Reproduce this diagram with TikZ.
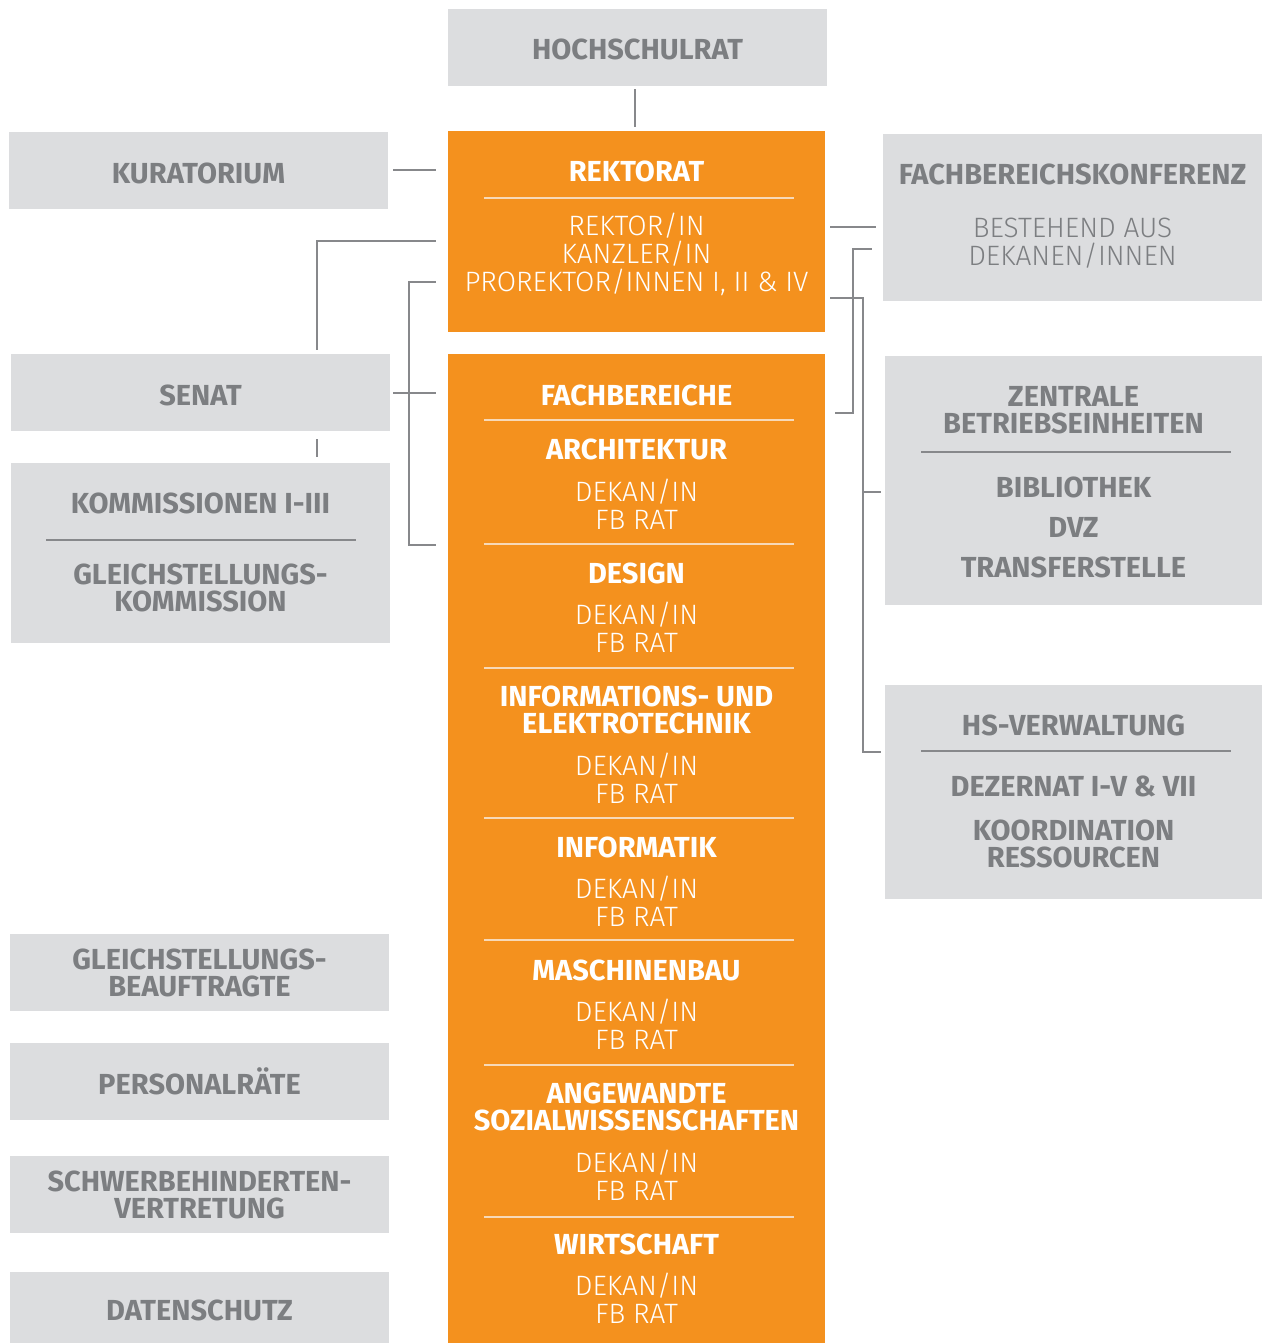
\documentclass[tikz,border=0pt]{standalone}
\usepackage{fontspec}
\setmainfont{Fira Sans}
\newfontfamily\firalight{Fira Sans Light}
\definecolor{hsorange}{HTML}{F4911E}
\definecolor{boxgrey}{HTML}{DCDDDF}
\definecolor{textgrey}{HTML}{7C7E81}
\definecolor{linegrey}{HTML}{87888B}
\definecolor{seppale}{HTML}{F7D9B8}
\newcommand\headfont{\fontsize{29}{27}\selectfont\bfseries}
\newcommand\subfont{\fontsize{28}{28}\selectfont\firalight}
\tikzset{
	greybox/.style={fill=boxgrey,inner sep=0pt,minimum width=379,minimum height=77,font=\headfont,text=textgrey,align=center},
	oneline/.style={text height=25pt,text depth=0pt},
	orangebox/.style={fill=hsorange,inner sep=0pt,minimum width=377},
	head/.style={font=\headfont,text=textgrey,align=center,inner sep=0pt},
	sub/.style={font=\subfont,text=textgrey,align=center,inner sep=0pt},
	whitehead/.style={head,text=white},
	whitesub/.style={sub,text=white},
	link/.style={draw=linegrey,line width=2pt},
	greysep/.style={draw=linegrey,line width=1.3pt},
	palesep/.style={draw=seppale,line width=1.5pt}
}
\begin{document}
\begin{tikzpicture}[x=1pt,y=-1pt]
	\useasboundingbox(0,0)rectangle(1263,1343);
	\node[greybox,oneline](hsr)at(637.5,47.5){HOCHSCHULRAT};
	\node[greybox,oneline](kur)at(198.5,170.5){KURATORIUM};
	\node[greybox,oneline](senat)at(200.5,392.5){SENAT};
	\node[greybox,minimum height=180](kom)at(200.5,553){};
	\node[greybox](gsb)at(199.5,972.5){GLEICHSTELLUNGS-\\BEAUFTRAGTE};
	\node[greybox,oneline](pr)at(199.5,1081.5){PERSONALRÄTE};
	\node[greybox](sbv)at(199.5,1194.5){SCHWERBEHINDERTEN-\\VERTRETUNG};
	\node[greybox,oneline,minimum height=71](ds)at(199.5,1307.5){DATENSCHUTZ};
	\node[orangebox,minimum height=201](rek)at(636.5,231.5){};
	\node[orangebox,minimum height=989](fb)at(636.5,848.5){};
	\node[greybox,minimum height=167](fbk)at(1072.5,217.5){};
	\node[greybox,minimum width=377,minimum height=249](zbe)at(1073.5,480.5){};
	\node[greybox,minimum width=377,minimum height=214](hsv)at(1073.5,792){};

	\node[whitehead](rektitle)at(636.5,171){REKTORAT};
	\draw[palesep](484,198)--(794,198);
	\node[whitesub](rekmembers)at(636.5,254.5){REKTOR/IN\\KANZLER/IN\\PROREKTOR/INNEN I, II \& IV};

	\node[head](fbktitle)at(1072.5,174){FACHBEREICHSKONFERENZ};
	\node[sub](fbkmembers)at(1072.5,243){BESTEHEND AUS\\DEKANEN/INNEN};

	\node[head](komtitle)at(200.5,503){KOMMISSIONEN I-III};
	\draw[greysep](46,540)--(356,540);
	\node[head](gsk)at(200.5,587.5){GLEICHSTELLUNGS-\\KOMMISSION};

	\node[head](zbetitle)at(1073.5,410.5){ZENTRALE\\BETRIEBSEINHEITEN};
	\draw[greysep](921,452)--(1231,452);
	\node[head](bib)at(1073.5,487){BIBLIOTHEK};
	\node[head](dvz)at(1073.5,527){DVZ};
	\node[head](tfs)at(1073.5,567){TRANSFERSTELLE};

	\node[head](hsvtitle)at(1073.5,725){HS-VERWALTUNG};
	\draw[greysep](921,751)--(1231,751);
	\node[head](dez)at(1073.5,786){DEZERNAT I-V \& VII};
	\node[head](kor)at(1073.5,843.5){KOORDINATION\\RESSOURCEN};

	\node[whitehead](fbtitle)at(636.5,395){FACHBEREICHE};
	\foreach \y in {420,544,668,818,940,1065,1217}
		\draw[palesep](484,\y)--(794,\y);
	\foreach \fach/\hy/\dy [count=\i] in {ARCHITEKTUR/449/504,DESIGN/573/627.5,{INFORMATIONS- UND\\ELEKTROTECHNIK}/709.5/778,INFORMATIK/847/901.5,MASCHINENBAU/970/1024.5,{ANGEWANDTE\\SOZIALWISSENSCHAFTEN}/1107/1175.5,WIRTSCHAFT/1244/1298.5}{
		\node[whitehead](fach\i)at(636.5,\hy){\fach};
		\node[whitesub](dekan\i)at(636.5,\dy){DEKAN/IN\\FB RAT};
	}

	\draw[link]([xshift=-2.5pt,yshift=-3pt]hsr.south)--([xshift=-1.5pt,yshift=4pt]rek.north);
	\draw[link]([xshift=5pt]kur.east)--([xshift=-12pt]kur.east-|rek.west);
	\draw[link]([xshift=-12pt]rek.west)++(0,9.5)-|([xshift=116.5pt,yshift=4pt]senat.north);
	\draw[link]([xshift=116.5pt,yshift=-8pt]senat.south)--([xshift=116.5pt,yshift=6pt]kom.north);
	\draw[link]([xshift=-12pt]rek.west)++(0,50.5)-|([xshift=19pt,yshift=8pt]kom.east)--([xshift=-12pt,yshift=8pt]kom.east-|fb.west);
	\draw[link]([xshift=3pt]senat.east)--([xshift=-12pt]senat.east-|fb.west);
	\draw[link]([xshift=5pt]rek.east)++(0,-4.5)--([xshift=-7pt]fbk.west|-0,227);
	\draw[link]([xshift=-11pt]fbk.west)++(0,31.5)-|([xshift=28pt]fb.east|-0,413)--([xshift=10pt]fb.east|-0,413);
	\draw[link]([xshift=5pt]rek.east)++(0,66.5)-|([xshift=-22pt]hsv.west|-0,752)--([xshift=-4pt]hsv.west|-0,752);
	\draw[link]([xshift=-22pt]zbe.west)++(0,11.5)--([xshift=-4pt]zbe.west|-0,492);
\end{tikzpicture}
\end{document}
